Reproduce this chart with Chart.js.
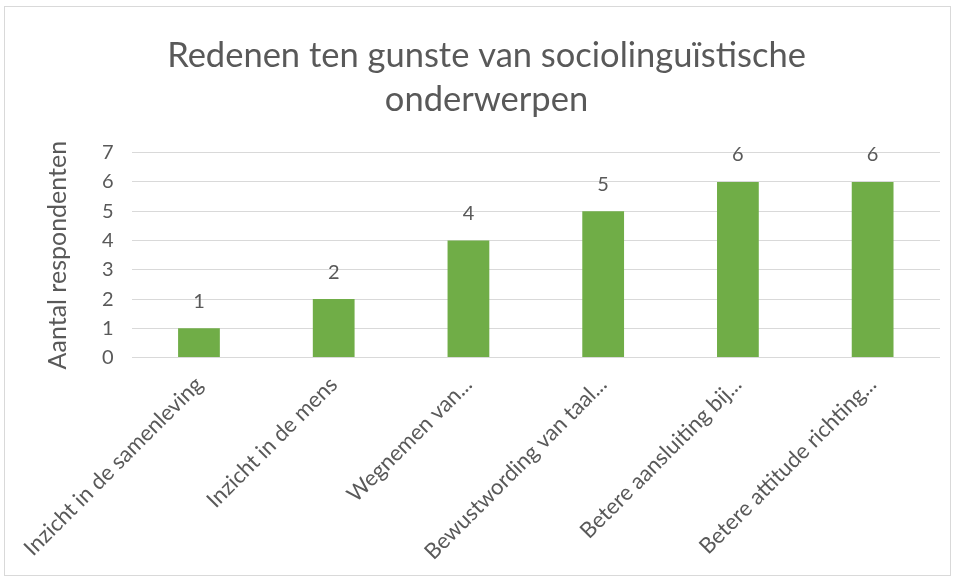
<!DOCTYPE html>
<html>
<head>
  <meta charset="utf-8">
  <title>Redenen ten gunste van sociolinguïstische onderwerpen</title>
  <style>
    body {
      margin: 0;
      padding: 0;
      background-color: #fff;
      font-family: Lato, sans-serif;
    }

    #container {
      position: absolute;
      left: 4px;
      top: 6px;
      width: 945px;
      height: 568px;
      border: 1px solid #d9d9d9;
      background-color: #fff;
    }
  </style>
</head>
<body>

<div id="container">
  <canvas id="myChart"></canvas>
</div>

<script src="https://cdn.jsdelivr.net/npm/chart.js"></script>
<script>
  const categories = [
    'Inzicht in de samenleving',
    'Inzicht in de mens',
    'Wegnemen van...',
    'Bewustwording van taal...',
    'Betere aansluiting bij...',
    'Betere attitude richting...'
  ];
  const respondents = [1, 2, 4, 5, 6, 6];
  const yTicks = [0, 1, 2, 3, 4, 5, 6, 7];

  const textColor = '#595959';

  // waarden boven de staven tekenen (geen datalabels-plugin beschikbaar)
  const valueLabels = {
    id: 'valueLabels',
    afterDatasetsDraw(chart) {
      const ctx = chart.ctx;
      const meta = chart.getDatasetMeta(0);
      ctx.save();
      ctx.fillStyle = textColor;
      ctx.font = '20px Lato, sans-serif';
      ctx.textAlign = 'center';
      ctx.textBaseline = 'middle';
      meta.data.forEach(function (bar, i) {
        ctx.fillText(respondents[i], bar.x, bar.y - 27);
      });
      ctx.restore();
    }
  };

  const ctx = document.getElementById('myChart').getContext('2d');
  const myChart = new Chart(ctx, {
    type: 'bar',
    data: {
      labels: categories,
      datasets: [{
        label: 'Aantal respondenten',
        data: respondents,
        backgroundColor: '#70AD47',
        borderWidth: 0,
        categoryPercentage: 1,
        barPercentage: 0.31
      }]
    },
    options: {
      responsive: true,
      maintainAspectRatio: false,
      animation: false,
      layout: {
        padding: { left: 28, right: 10, top: 12, bottom: 4 }
      },
      plugins: {
        legend: { display: false },
        tooltip: { enabled: false },
        title: {
          display: true,
          text: ['Redenen ten gunste van sociolinguïstische', 'onderwerpen'],
          color: textColor,
          font: { family: 'Lato, sans-serif', size: 34.5, weight: 'normal', lineHeight: 1.3 },
          padding: { top: 14, bottom: 30 }
        }
      },
      scales: {
        x: {
          grid: { display: false },
          border: { display: false },
          ticks: {
            color: textColor,
            font: { family: 'Lato, sans-serif', size: 22 },
            minRotation: 45,
            maxRotation: 45,
            autoSkip: false,
            padding: 6
          }
        },
        y: {
          min: 0,
          max: yTicks[yTicks.length - 1],
          afterBuildTicks: function (axis) {
            axis.ticks = yTicks.map(function (v) { return { value: v }; });
          },
          grid: { color: '#d9d9d9', lineWidth: 1, drawTicks: false },
          border: { display: false },
          ticks: {
            color: textColor,
            font: { family: 'Lato, sans-serif', size: 20 },
            padding: 18
          },
          title: {
            display: true,
            text: 'Aantal respondenten',
            color: textColor,
            font: { family: 'Lato, sans-serif', size: 25 },
            padding: { top: 10, bottom: 11 }
          }
        }
      }
    },
    plugins: [valueLabels]
  });
</script>
</body>
</html>
